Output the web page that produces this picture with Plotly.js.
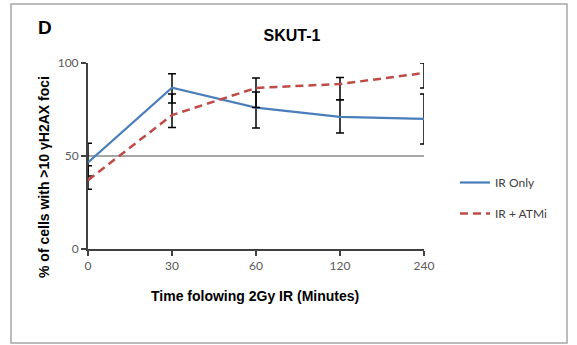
<!DOCTYPE html>
<html>
<head>
<meta charset="utf-8">
<script src="https://cdn.plot.ly/plotly-3.0.1.min.js"></script>
<style>html,body{margin:0;padding:0;background:#fff;}#chart{width:577px;height:345px;}</style>
</head>
<body>
<div id="chart"></div>
<script>
const categories = ["0", "30", "60", "120", "240"];
const irOnly = [46.5, 86.7, 76, 71, 70];
const irOnlyErrPlus = [10.4, 7.5, 8.4, 9.2, 13.3];
const irOnlyErrMinus = [7.2, 8.2, 11, 8.7, 13.6];
const irAtmi = [37, 72, 86.6, 88.7, 94.6];
const irAtmiErrPlus = [7.7, 11.3, 5.3, 3.5, 5.4];
const irAtmiErrMinus = [4.9, 6.7, 10.5, 8.5, 8.1];
const seriesNames = ["IR Only", "IR + ATMi"];
const yTicks = [0, 50, 100];

const L = 88, R = 153, T = 63, B = 96;
const W = 577, H = 345;
const pw = W - L - R, ph = H - T - B;
const px = v => (v - L) / pw;
const py = v => (H - B - v) / ph;

const errStyle = {type: 'data', symmetric: false, color: '#000000', thickness: 1.5, width: 4};

const traces = [
  {
    x: categories, y: irOnly, name: seriesNames[0], type: 'scatter', mode: 'lines',
    line: {color: '#4a7ebb', width: 2.2},
    error_y: Object.assign({array: irOnlyErrPlus, arrayminus: irOnlyErrMinus}, errStyle),
    legendgroup: 'a', cliponaxis: true
  },
  {
    x: categories, y: irAtmi, name: seriesNames[1], type: 'scatter', mode: 'lines',
    line: {color: '#be4b48', width: 2.5, dash: '8px,5px'},
    error_y: Object.assign({array: irAtmiErrPlus, arrayminus: irAtmiErrMinus}, errStyle),
    legendgroup: 'b', cliponaxis: true
  }
];

const layout = {
  width: W, height: H,
  margin: {l: L, r: R, t: T, b: B, pad: 0},
  paper_bgcolor: '#ffffff', plot_bgcolor: '#ffffff',
  font: {family: 'Liberation Sans, Arial, sans-serif', color: '#000'},
  title: {
    text: '<b>SKUT-1</b>', font: {size: 16, family: 'Liberation Sans, Arial, sans-serif', color: '#000'},
    xref: 'container', yref: 'container', x: 292 / W, y: 1 - 35 / H, xanchor: 'center', yanchor: 'middle'
  },
  xaxis: {
    type: 'category', range: [0, 4], showgrid: false, zeroline: false,
    showline: true, linecolor: '#404040', linewidth: 2,
    ticks: 'outside', ticklen: 5, tickcolor: '#404040', tickwidth: 1.5,
    tickfont: {family: 'Lato, sans-serif', size: 12, color: '#595959'},
    fixedrange: true
  },
  yaxis: {
    range: [0, 100], tickvals: yTicks, ticktext: yTicks.map(String),
    showgrid: true, gridcolor: '#a6a6a6', gridwidth: 1.2, zeroline: false,
    showline: true, linecolor: '#404040', linewidth: 2,
    ticks: 'outside', ticklen: 5, tickcolor: '#404040', tickwidth: 1.5,
    tickfont: {family: 'Lato, sans-serif', size: 12, color: '#595959'},
    fixedrange: true
  },
  showlegend: true,
  legend: {
    x: px(455), y: py(168), xanchor: 'left', yanchor: 'top',
    font: {family: 'Lato, sans-serif', size: 12, color: '#404040'},
    traceorder: 'grouped', tracegroupgap: 12, bgcolor: 'rgba(0,0,0,0)'
  },
  annotations: [
    {text: '<b>D</b>', xref: 'paper', yref: 'paper', x: px(45), y: py(28), showarrow: false,
     font: {size: 19, family: 'Liberation Sans, Arial, sans-serif', color: '#000'}, xanchor: 'center', yanchor: 'middle'},
    {text: '<b>% of cells with >10 γH2AX foci</b>', xref: 'paper', yref: 'paper', x: px(44), y: py(177),
     textangle: -90, showarrow: false, font: {size: 14, family: 'Liberation Sans, Arial, sans-serif', color: '#000'},
     xanchor: 'center', yanchor: 'middle'},
    {text: '<b>Time folowing 2Gy IR (Minutes)</b>', xref: 'paper', yref: 'paper', x: px(255), y: py(296),
     showarrow: false, font: {size: 14, family: 'Liberation Sans, Arial, sans-serif', color: '#000'},
     xanchor: 'center', yanchor: 'middle'}
  ],
  shapes: [
    {type: 'rect', xref: 'paper', yref: 'paper', x0: px(11), x1: px(567), y0: py(343), y1: py(4),
     line: {color: '#a6a6a6', width: 1.5}, fillcolor: 'rgba(0,0,0,0)', layer: 'below'}
  ]
};

Plotly.newPlot('chart', traces, layout, {staticPlot: true, displayModeBar: false});
</script>
</body>
</html>
